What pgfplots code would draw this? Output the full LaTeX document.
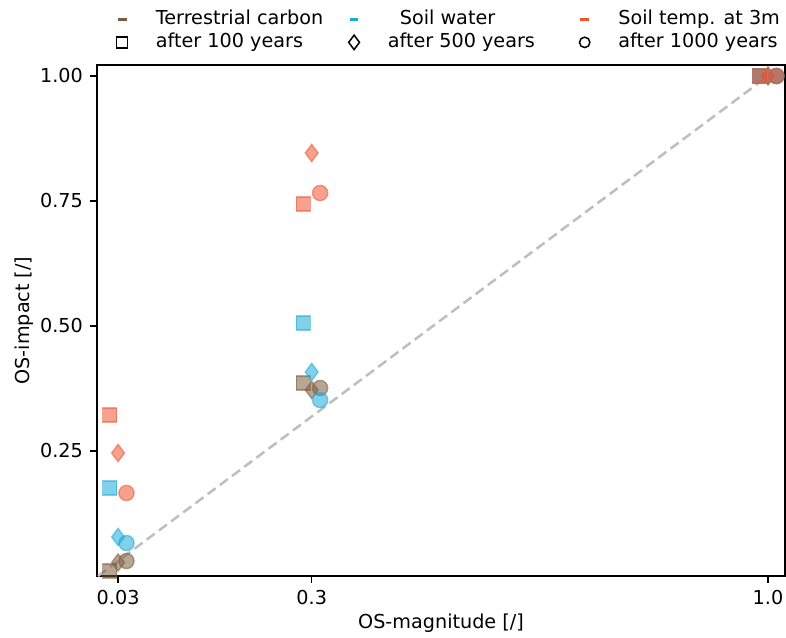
\documentclass[border=0pt]{standalone}
\usepackage{fontspec}
\setmainfont{DejaVu Sans}
\usepackage{pgfplots}
\pgfplotsset{compat=1.18}

\definecolor{tc}{RGB}{125,92,62}
\definecolor{sw}{RGB}{30,170,215}
\definecolor{st}{RGB}{238,85,50}
\definecolor{oneone}{RGB}{190,190,190}

\pgfplotsset{
  dashimg/.style={legend image code/.code={%
      \path (0pt,0pt) (17.5pt,0pt);
      \draw[##1,line width=1.6pt] (1.8pt,0pt) -- (6.2pt,0pt);}},
  markimg/.style={legend image code/.code={%
      \path (0pt,0pt) (17.5pt,0pt);
      \draw[##1] plot coordinates {(4pt,0pt)};}},
  pt/.style={only marks, forget plot,
    mark options={fill=#1, draw=#1, opacity=0.55, line width=0.7pt}},
  sq/.style={mark=square*, mark size=3.5pt},
  di/.style={mark=diamond*, mark size=4.3pt},
  ci/.style={mark=*, mark size=3.8pt},
}

\begin{document}
\begin{tikzpicture}[font=\fontsize{9.6}{11.5}\selectfont]
% page frame: 786 x 637 px at 2 px per pt, axis box at (0,0)-(344pt,255.5pt)
\useasboundingbox (-48.5pt,-30.5pt) rectangle (344.5pt,288pt);
\begin{axis}[
    at={(0,0)}, anchor=south west,
    width=344pt, height=255.5pt,
    scale only axis,
    xmin=-0.0015, xmax=1.0254,
    ymin=0, ymax=1.022,
    axis line style={line width=0.75pt},
    tick style={line width=0.75pt, black},
    major tick length=3.5pt,
    tick align=outside,
    xtick pos=left, ytick pos=left,
    xtick={0.03,0.319,1.0},
    xticklabels={0.03,0.3,1.0},
    ytick={0.25,0.5,0.75,1.0},
    yticklabels={0.25,0.50,0.75,1.00},
    /pgf/number format/assume math mode=true,
    xlabel={OS-magnitude [/]},
    ylabel={OS-impact [/]},
    xlabel style={at={(axis description cs:0.5,-0.1037)}, anchor=base},
    ylabel style={at={(axis description cs:-0.0981,0.5)}, anchor=base},
    clip=false,
    legend columns=3,
    legend cell align=left,
    legend style={draw=none, fill=none, inner sep=0pt,
      at={(axis description cs:0.0233,1.1096)}, anchor=north west,
      nodes={inner xsep=3pt, inner ysep=0.5pt, text height=7pt, text depth=2pt},
      row sep=1.5pt,
      /tikz/column 2/.style={column sep=8pt},
      /tikz/column 4/.style={column sep=17.5pt}},
]

\addlegendimage{dashimg, tc}
\addlegendimage{dashimg, sw}
\addlegendimage{dashimg, st}
\addlegendimage{markimg, only marks, mark=square, mark size=2.75pt, black, line width=0.75pt}
\addlegendimage{markimg, only marks, mark=diamond, mark size=3.6pt, black, line width=0.75pt}
\addlegendimage{markimg, only marks, mark=o, mark size=2.6pt, black, line width=0.75pt}
\legend{Terrestrial carbon, \hspace*{6pt}Soil water, Soil temp. at 3m,
        after 100 years, after 500 years, after 1000 years}

% 1:1 line
\addplot[forget plot, oneone, line width=1.25pt, dash pattern=on 5pt off 2.6pt]
  coordinates {(0,0) (1,1)};

% Terrestrial carbon
\addplot[pt=tc, sq] coordinates {(0.0175,0.010) (0.3065,0.386) (0.9875,1.0)};
\addplot[pt=tc, di] coordinates {(0.0300,0.027) (0.3190,0.372) (1.0000,1.0)};
\addplot[pt=tc, ci] coordinates {(0.0425,0.030) (0.3315,0.376) (1.0125,1.0)};

% Soil water
\addplot[pt=sw, sq] coordinates {(0.0175,0.176) (0.3065,0.506) (0.9875,1.0)};
\addplot[pt=sw, di] coordinates {(0.0300,0.078) (0.3190,0.408) (1.0000,1.0)};
\addplot[pt=sw, ci] coordinates {(0.0425,0.066) (0.3315,0.352) (1.0125,1.0)};

% Soil temperature at 3m
\addplot[pt=st, sq] coordinates {(0.0175,0.322) (0.3065,0.744) (0.9875,1.0)};
\addplot[pt=st, di] coordinates {(0.0300,0.246) (0.3190,0.846) (1.0000,1.0)};
\addplot[pt=st, ci] coordinates {(0.0425,0.166) (0.3315,0.766) (1.0125,1.0)};

\end{axis}
\end{tikzpicture}
\end{document}
